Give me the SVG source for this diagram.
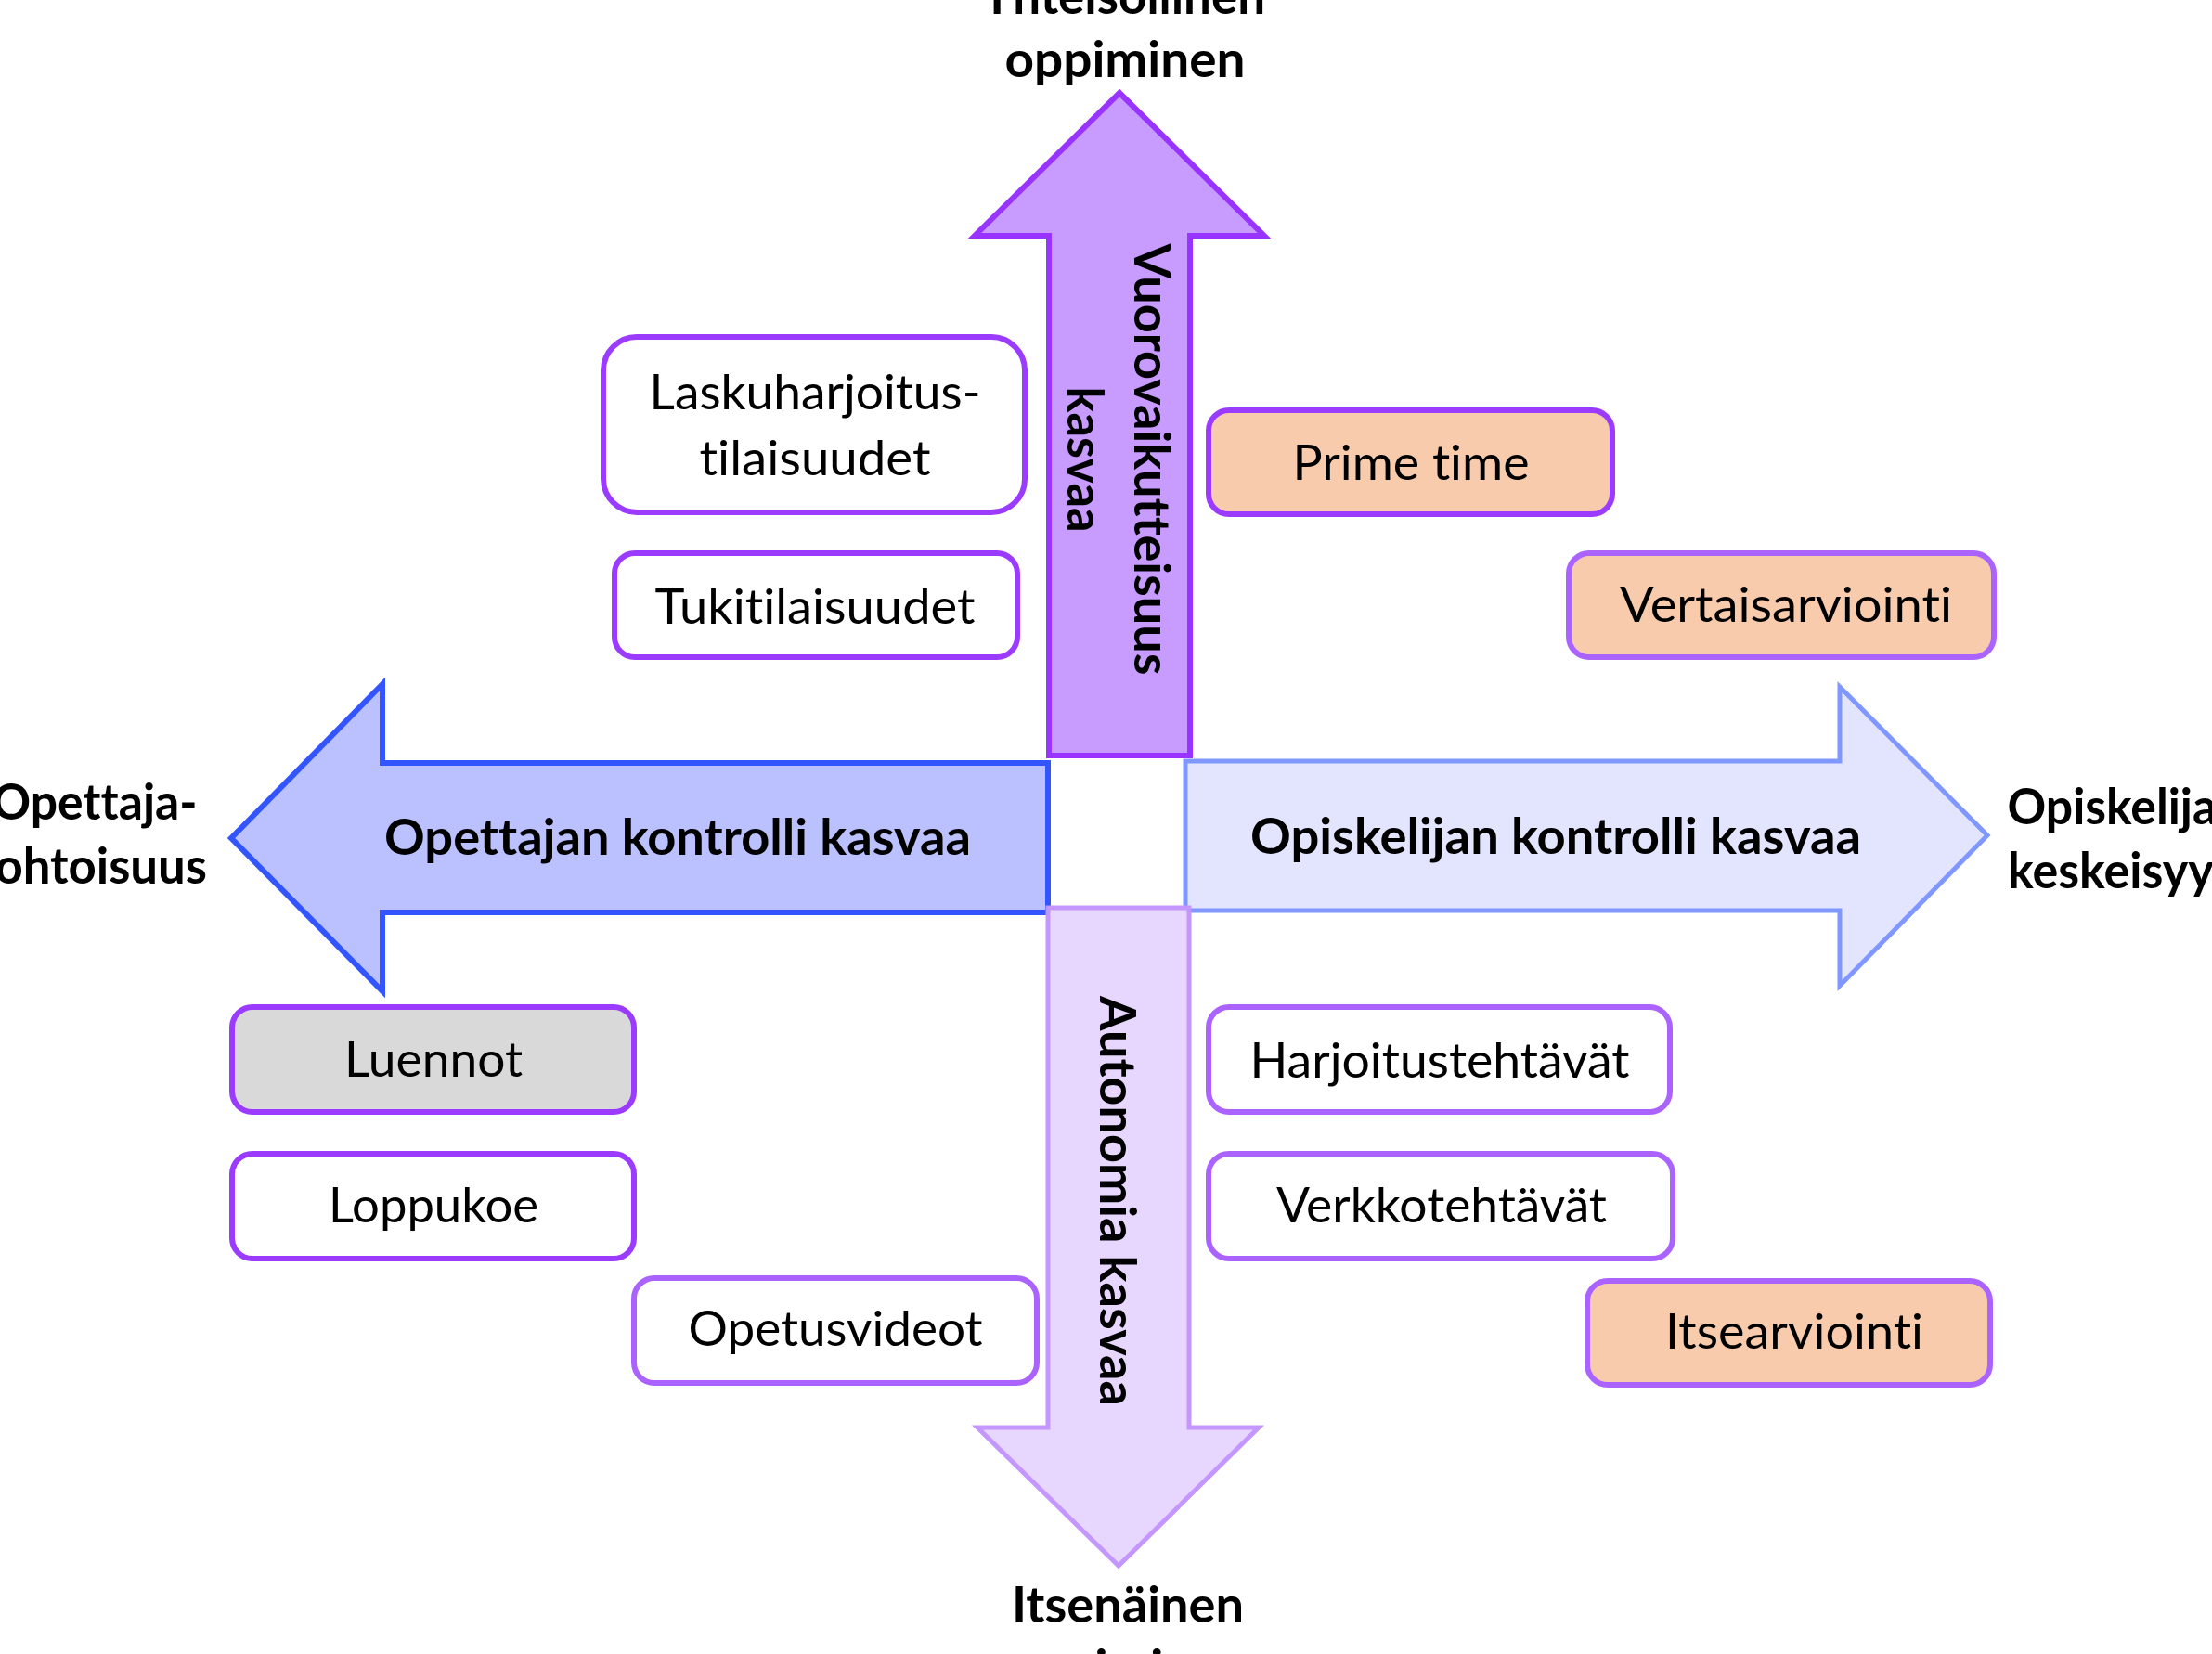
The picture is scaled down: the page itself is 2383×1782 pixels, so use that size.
<svg xmlns="http://www.w3.org/2000/svg" width="2383" height="1782" viewBox="0 0 2383 1782">
<style>
.lbl{font-family:Lato,"Open Sans","Liberation Sans",sans-serif;font-weight:700;font-size:53px;fill:#000;text-anchor:middle;font-variant-ligatures:none}
.box{stroke-width:6}
.t{font-family:Lato,"Open Sans","Liberation Sans",sans-serif;font-size:52px;fill:#000;text-anchor:middle;font-variant-ligatures:none}
.dk{stroke:#9B3BFF}
.lt{stroke:#AA63FF}
</style>
<rect width="2383" height="1782" fill="#fff"/>
<g id="connectors">
  <g id="arrow-left">
    <polygon points="249,903 412,737 412,822 1129,822 1129,983 412,983 412,1068" fill="#BBC0FF" stroke="#3355FF" stroke-width="6" stroke-linejoin="miter"/>
    <text class="lbl" x="730" y="921" textLength="632" lengthAdjust="spacingAndGlyphs">Opettajan kontrolli kasvaa</text>
  </g>
  <g id="arrow-right">
    <polygon points="1277,820 1982,820 1982,740 2141,900 1982,1062 1982,981 1277,981" fill="#E3E5FF" stroke="#7F97FF" stroke-width="5"/>
    <text class="lbl" x="1676" y="920" textLength="658" lengthAdjust="spacingAndGlyphs">Opiskelijan kontrolli kasvaa</text>
  </g>
  <g id="arrow-up">
    <polygon points="1206,100 1362,254 1282,254 1282,814 1130,814 1130,254 1050,254" fill="#C89BFF" stroke="#9933FF" stroke-width="6"/>
    <g transform="translate(1222,495) rotate(90)">
      <text class="lbl" x="0" y="0" textLength="465" lengthAdjust="spacingAndGlyphs">Vuorovaikutteisuus</text>
      <text class="lbl" x="0" y="72" textLength="157" lengthAdjust="spacingAndGlyphs">kasvaa</text>
    </g>
  </g>
  <g id="arrow-down">
    <polygon points="1129,978 1281,978 1281,1538 1356,1538 1205,1687 1053,1538 1129,1538" fill="#E6D5FF" fill-opacity="0.95" stroke="#C496FF" stroke-width="5"/>
    <g transform="translate(1185,1294) rotate(90)">
      <text class="lbl" x="0" y="0" textLength="442" lengthAdjust="spacingAndGlyphs">Autonomia kasvaa</text>
    </g>
  </g>
</g>
<g id="axis-labels">
  <g id="label-top">
    <text class="lbl" x="1210" y="15" textLength="306" lengthAdjust="spacingAndGlyphs">Yhteisöllinen</text>
    <text class="lbl" x="1212" y="83" textLength="259" lengthAdjust="spacingAndGlyphs">oppiminen</text>
  </g>
  <g id="label-left">
    <text class="lbl" x="102" y="883" textLength="221" lengthAdjust="spacingAndGlyphs">Opettaja-</text>
    <text class="lbl" x="102" y="952" textLength="242" lengthAdjust="spacingAndGlyphs">johtoisuus</text>
  </g>
  <g id="label-right">
    <text class="lbl" x="2285" y="888" textLength="245" lengthAdjust="spacingAndGlyphs">Opiskelija-</text>
    <text class="lbl" x="2285" y="957" textLength="244" lengthAdjust="spacingAndGlyphs">keskeisyys</text>
  </g>
  <g id="label-bottom">
    <text class="lbl" x="1215" y="1748" textLength="250" lengthAdjust="spacingAndGlyphs">Itsenäinen</text>
    <text class="lbl" x="1215" y="1816" textLength="259" lengthAdjust="spacingAndGlyphs">oppiminen</text>
  </g>
</g>
<g id="node-laskuharjoitus">
  <rect class="box dk" x="650" y="363" width="454" height="189" rx="36" fill="#fff"/>
  <text class="t" x="878" y="441" textLength="357" lengthAdjust="spacingAndGlyphs">Laskuharjoitus-</text>
  <text class="t" x="878" y="512" textLength="249" lengthAdjust="spacingAndGlyphs">tilaisuudet</text>
</g>
<g id="node-tukitilaisuudet">
  <rect class="box dk" x="662" y="596" width="434" height="112" rx="22" fill="#fff"/>
  <text class="t" x="878" y="672" textLength="345" lengthAdjust="spacingAndGlyphs">Tukitilaisuudet</text>
</g>
<g id="node-primetime">
  <rect class="box dk" x="1302" y="442" width="435" height="112" rx="22" fill="#F8CBAD"/>
  <text class="t" x="1520" y="517" textLength="255" lengthAdjust="spacingAndGlyphs">Prime time</text>
</g>
<g id="node-vertaisarviointi">
  <rect class="box lt" x="1690" y="596" width="458" height="112" rx="22" fill="#F8CBAD"/>
  <text class="t" x="1924" y="670" textLength="358" lengthAdjust="spacingAndGlyphs">Vertaisarviointi</text>
</g>
<g id="node-luennot">
  <rect class="box dk" x="250" y="1085" width="433" height="113" rx="22" fill="#D9D9D9"/>
  <text class="t" x="467" y="1160" textLength="192" lengthAdjust="spacingAndGlyphs">Luennot</text>
</g>
<g id="node-loppukoe">
  <rect class="box dk" x="250" y="1243" width="433" height="113" rx="22" fill="#fff"/>
  <text class="t" x="467" y="1317" textLength="226" lengthAdjust="spacingAndGlyphs">Loppukoe</text>
</g>
<g id="node-opetusvideot">
  <rect class="box lt" x="683" y="1377" width="434" height="113" rx="22" fill="#fff"/>
  <text class="t" x="900" y="1450" textLength="317" lengthAdjust="spacingAndGlyphs">Opetusvideot</text>
</g>
<g id="node-harjoitustehtavat">
  <rect class="box lt" x="1302" y="1085" width="497" height="113" rx="22" fill="#fff"/>
  <text class="t" x="1551" y="1161" textLength="409" lengthAdjust="spacingAndGlyphs">Harjoitustehtävät</text>
</g>
<g id="node-verkkotehtavat">
  <rect class="box lt" x="1302" y="1243" width="500" height="113" rx="22" fill="#fff"/>
  <text class="t" x="1553" y="1317" textLength="356" lengthAdjust="spacingAndGlyphs">Verkkotehtävät</text>
</g>
<g id="node-itsearviointi">
  <rect class="box lt" x="1710" y="1380" width="434" height="112" rx="22" fill="#F8CBAD"/>
  <text class="t" x="1933" y="1453" textLength="278" lengthAdjust="spacingAndGlyphs">Itsearviointi</text>
</g>
</svg>
